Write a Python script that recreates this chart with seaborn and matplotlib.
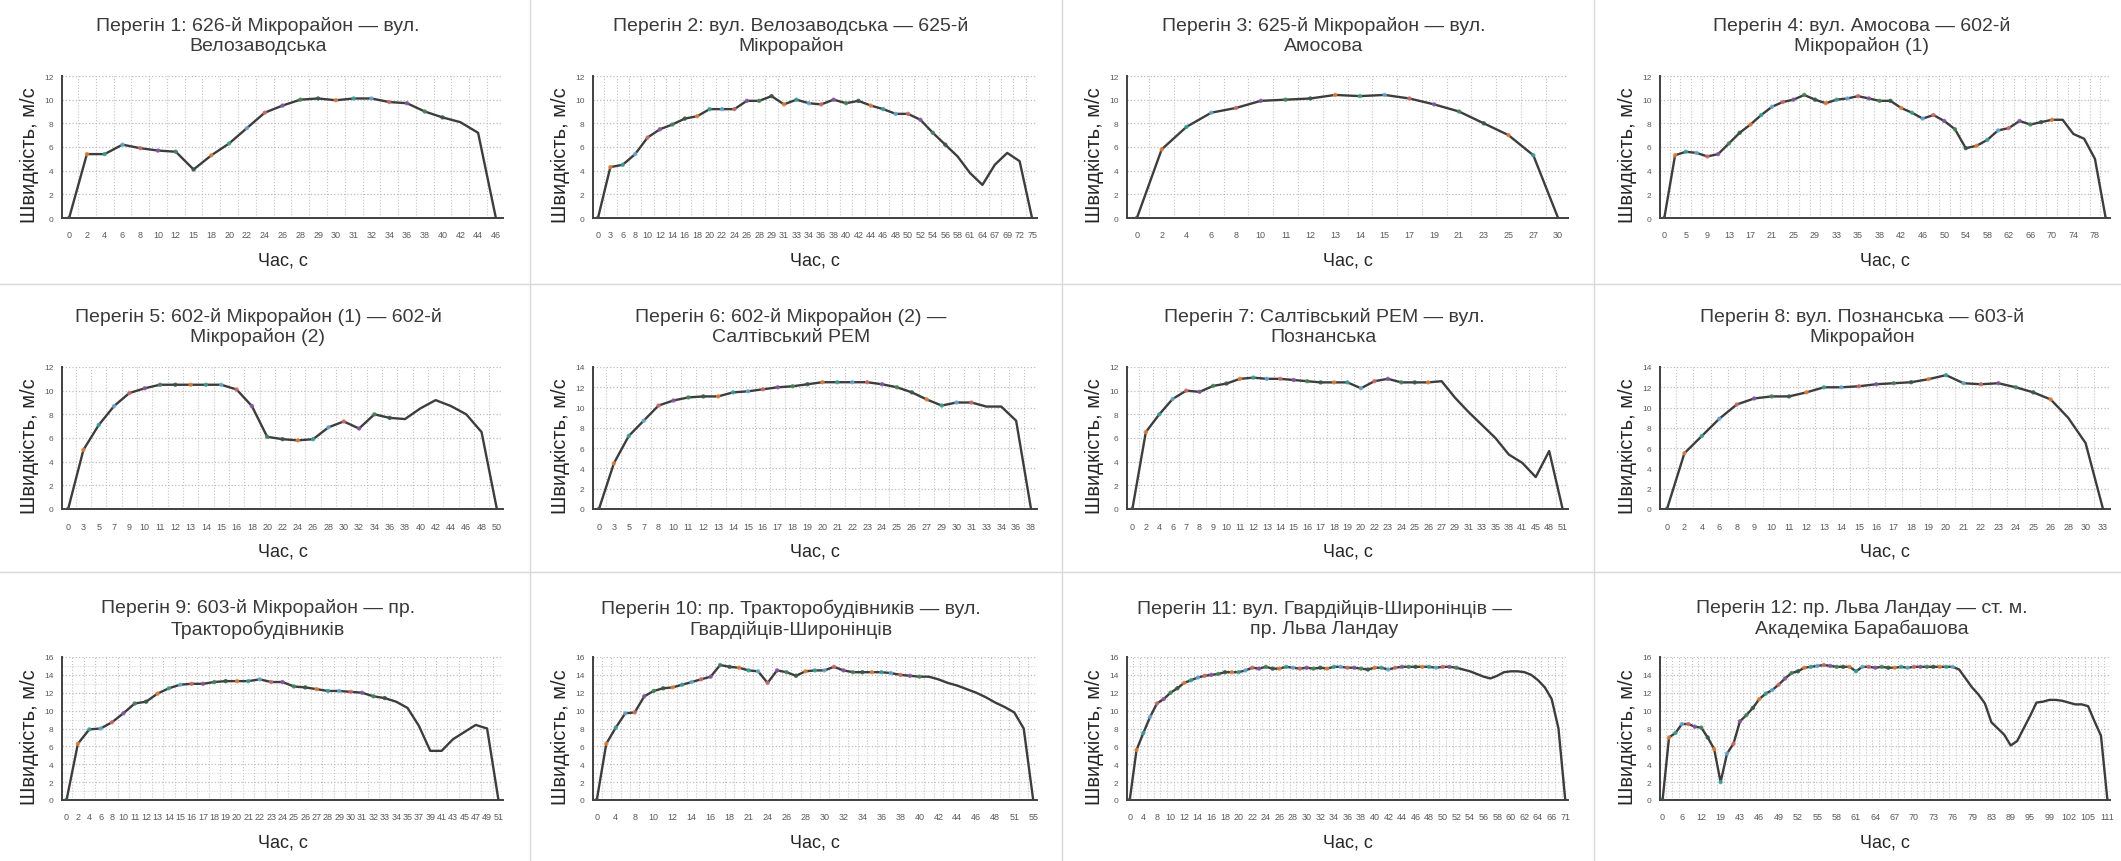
import matplotlib
matplotlib.use('Agg')
import numpy as np
import pandas as pd
import matplotlib.pyplot as plt
from matplotlib.lines import Line2D
import seaborn as sns

# Перегін 1 .. 12: time categories (s) and speed (m/s)
t1 = [0, 2, 4, 6, 8, 10, 12, 15, 18, 20, 22, 24, 26, 28, 29, 30, 31, 32, 34, 36, 38, 40, 42, 44, 46]
v1 = [0, 5.4, 5.4, 6.2, 5.9, 5.7, 5.6, 4.1, 5.3, 6.3, 7.6, 8.9, 9.5, 10.0, 10.1, 9.95, 10.1, 10.1,
      9.8, 9.7, 9.0, 8.5, 8.1, 7.2, 0]

t2 = [0, 3, 6, 8, 10, 12, 14, 16, 18, 20, 22, 24, 26, 28, 29, 31, 33, 34, 36, 38, 40, 42, 44, 46,
      48, 50, 52, 54, 56, 58, 61, 64, 67, 69, 72, 75]
v2 = [0, 4.3, 4.5, 5.4, 6.8, 7.5, 7.9, 8.4, 8.6, 9.2, 9.2, 9.2, 9.9, 9.9, 10.3, 9.6, 10.0, 9.7,
      9.6, 10.0, 9.7, 9.9, 9.5, 9.2, 8.8, 8.8, 8.3, 7.2, 6.2, 5.2, 3.8, 2.8, 4.5, 5.5, 4.8, 0]

t3 = [0, 2, 4, 6, 8, 10, 11, 12, 13, 14, 15, 17, 19, 21, 23, 25, 27, 30]
v3 = [0, 5.8, 7.7, 8.9, 9.3, 9.9, 10.0, 10.1, 10.4, 10.3, 10.4, 10.1, 9.6, 9.0, 8.0, 7.0, 5.3, 0]

t4 = [0, 3, 5, 7, 9, 11, 13, 15, 17, 19, 21, 23, 25, 27, 29, 31, 33, 34, 35, 37, 38, 40, 42, 44,
      46, 48, 50, 52, 54, 56, 58, 60, 62, 64, 66, 68, 70, 72, 74, 76, 78, 80]
v4 = [0, 5.3, 5.6, 5.5, 5.2, 5.4, 6.3, 7.2, 7.9, 8.7, 9.4, 9.8, 10.0, 10.4, 10.0, 9.7, 10.0, 10.1,
      10.3, 10.1, 9.9, 9.9, 9.3, 8.9, 8.4, 8.7, 8.2, 7.5, 5.9, 6.1, 6.6, 7.4, 7.6, 8.2, 7.9, 8.1,
      8.3, 8.3, 7.1, 6.7, 5.0, 0]

t5 = [0, 3, 5, 7, 9, 10, 11, 12, 13, 14, 15, 16, 18, 20, 22, 24, 26, 28, 30, 32, 34, 36, 38, 40,
      42, 44, 46, 48, 50]
v5 = [0, 5.0, 7.1, 8.7, 9.8, 10.2, 10.5, 10.5, 10.5, 10.5, 10.5, 10.1, 8.7, 6.1, 5.9, 5.8, 5.9,
      6.9, 7.4, 6.8, 8.0, 7.7, 7.6, 8.5, 9.2, 8.7, 8.0, 6.5, 0]

t6 = [0, 3, 5, 7, 8, 10, 11, 12, 13, 14, 15, 16, 17, 18, 19, 20, 21, 22, 23, 24, 25, 26, 27, 29,
      30, 31, 33, 34, 36, 38]
v6 = [0, 4.5, 7.2, 8.7, 10.2, 10.7, 11.0, 11.1, 11.1, 11.5, 11.6, 11.8, 12.0, 12.1, 12.3, 12.5,
      12.5, 12.5, 12.5, 12.3, 12.0, 11.5, 10.8, 10.2, 10.5, 10.5, 10.1, 10.1, 8.7, 0]

t7 = [0, 2, 4, 6, 7, 8, 9, 10, 11, 12, 13, 14, 15, 16, 17, 18, 19, 20, 22, 23, 24, 25, 26, 27,
      29, 31, 33, 35, 38, 41, 45, 48, 51]
v7 = [0, 6.5, 8.0, 9.3, 10.0, 9.9, 10.4, 10.6, 11.0, 11.1, 11.0, 11.0, 10.9, 10.8, 10.7, 10.7,
      10.7, 10.2, 10.8, 11.0, 10.7, 10.7, 10.7, 10.8, 9.4, 8.2, 7.1, 6.0, 4.6, 3.9, 2.7, 4.9, 0]

t8 = [0, 2, 4, 6, 8, 9, 10, 11, 12, 13, 14, 15, 16, 17, 18, 19, 20, 21, 22, 23, 24, 25, 26, 28,
      30, 33]
v8 = [0, 5.5, 7.2, 8.9, 10.3, 10.9, 11.1, 11.1, 11.5, 12.0, 12.0, 12.1, 12.3, 12.4, 12.5, 12.8,
      13.2, 12.4, 12.3, 12.4, 12.0, 11.5, 10.8, 9.0, 6.5, 0]

t9 = [0, 2, 4, 6, 8, 10, 11, 12, 13, 14, 15, 16, 17, 18, 19, 20, 21, 22, 23, 24, 25, 26, 27, 28,
      29, 30, 31, 32, 33, 34, 35, 37, 39, 41, 43, 45, 47, 49, 51]
v9 = [0, 6.3, 7.9, 8.0, 8.7, 9.7, 10.8, 11.0, 11.9, 12.5, 12.9, 13.0, 13.0, 13.2, 13.3, 13.3,
      13.3, 13.5, 13.2, 13.2, 12.7, 12.6, 12.4, 12.2, 12.2, 12.1, 12.0, 11.6, 11.4, 11.0, 10.3,
      8.3, 5.5, 5.5, 6.8, 7.6, 8.4, 8.0, 0]

t10 = [0, 2, 4, 6, 8, 9, 10, 11, 12, 13, 14, 15, 16, 17, 18, 19, 21, 22, 24, 25, 26, 27, 28, 29,
       30, 31, 32, 33, 34, 35, 36, 37, 38, 39, 40, 41, 42, 43, 44, 45, 46, 47, 48, 50, 51, 53, 55]
v10 = [0, 6.3, 8.1, 9.7, 9.8, 11.6, 12.2, 12.5, 12.6, 12.9, 13.2, 13.5, 13.8, 15.1, 14.9, 14.8,
       14.5, 14.4, 13.1, 14.5, 14.3, 13.9, 14.4, 14.5, 14.5, 14.9, 14.5, 14.3, 14.3, 14.3, 14.3,
       14.2, 14.0, 13.9, 13.8, 13.8, 13.5, 13.1, 12.8, 12.4, 12.0, 11.5, 10.9, 10.4, 9.8, 8.0, 0]

t11 = [0, 2, 4, 6, 8, 9, 10, 11, 12, 13, 14, 15, 16, 17, 18, 19, 20, 21, 22, 23, 24, 25, 26, 27,
       28, 29, 30, 31, 32, 33, 34, 35, 36, 37, 38, 39, 40, 41, 42, 43, 44, 45, 46, 47, 48, 49, 50,
       51, 52, 53, 54, 55, 56, 57, 58, 59, 60, 61, 62, 63, 64, 65, 66, 68, 71]
v11 = [0, 5.6, 7.5, 9.3, 10.8, 11.3, 12.0, 12.5, 13.1, 13.4, 13.7, 13.9, 14.0, 14.1, 14.3, 14.3,
       14.3, 14.5, 14.8, 14.7, 14.9, 14.7, 14.7, 14.9, 14.8, 14.7, 14.8, 14.7, 14.8, 14.7, 14.9,
       14.9, 14.8, 14.8, 14.7, 14.6, 14.8, 14.8, 14.6, 14.8, 14.9, 14.9, 14.9, 14.9, 14.9, 14.8,
       14.9, 14.9, 14.8, 14.6, 14.4, 14.1, 13.8, 13.6, 13.9, 14.3, 14.4, 14.4, 14.3, 14.0, 13.4,
       12.6, 11.3, 8.0, 0]

t12 = [0, 2, 4, 6, 8, 10, 12, 14, 17, 19, 21, 41, 43, 44, 45, 46, 47, 48, 49, 50, 51, 52, 53, 54,
       55, 56, 57, 58, 59, 60, 61, 62, 63, 64, 65, 66, 67, 68, 69, 70, 71, 72, 73, 74, 75, 76, 77,
       78, 79, 81, 82, 83, 85, 87, 89, 91, 93, 95, 97, 98, 99, 100, 101, 102, 103, 104, 105, 107,
       109, 111]
v12 = [0, 7.0, 7.5, 8.5, 8.5, 8.2, 8.1, 7.0, 5.7, 2.0, 5.2, 6.3, 8.8, 9.5, 10.3, 11.3, 11.9, 12.3,
       12.9, 13.6, 14.2, 14.4, 14.8, 14.9, 15.0, 15.1, 15.0, 14.9, 14.9, 14.9, 14.4, 14.9, 14.9,
       14.8, 14.9, 14.8, 14.8, 14.9, 14.8, 14.9, 14.9, 14.9, 14.9, 14.9, 14.9, 14.9, 14.6, 13.6,
       12.6, 11.8, 10.8, 8.7, 8.0, 7.3, 6.1, 6.6, 8.0, 9.4, 10.9, 11.0, 11.2, 11.2, 11.1, 10.9,
       10.7, 10.7, 10.5, 8.8, 7.2, 0]

titles = [
    'Перегін 1: 626-й Мікрорайон — вул.\nВелозаводська',
    'Перегін 2: вул. Велозаводська — 625-й\nМікрорайон',
    'Перегін 3: 625-й Мікрорайон — вул.\nАмосова',
    'Перегін 4: вул. Амосова — 602-й\nМікрорайон (1)',
    'Перегін 5: 602-й Мікрорайон (1) — 602-й\nМікрорайон (2)',
    'Перегін 6: 602-й Мікрорайон (2) —\nСалтівський РЕМ',
    'Перегін 7: Салтівський РЕМ — вул.\nПознанська',
    'Перегін 8: вул. Познанська — 603-й\nМікрорайон',
    'Перегін 9: 603-й Мікрорайон — пр.\nТракторобудівників',
    'Перегін 10: пр. Тракторобудівників — вул.\nГвардійців-Широнінців',
    'Перегін 11: вул. Гвардійців-Широнінців —\nпр. Льва Ландау',
    'Перегін 12: пр. Льва Ландау — ст. м.\nАкадеміка Барабашова',
]
times = [t1, t2, t3, t4, t5, t6, t7, t8, t9, t10, t11, t12]
speeds = [v1, v2, v3, v4, v5, v6, v7, v8, v9, v10, v11, v12]

# per panel styling: y max, label every n-th category, how many leading points get a marker
y_max = [12, 12, 12, 12, 12, 14, 12, 14, 16, 16, 16, 16]
label_step = [1, 1, 1, 2, 1, 1, 1, 1, 1, 2, 2, 3]
n_marked = [22, 29, 17, 37, 22, 26, 23, 23, 29, 35, 49, 46]

W, H = 2121, 862
cols = [(62, 503), (593, 1037), (1127, 1568), (1660, 2110)]
rows = [(77, 219), (368, 510), (658, 801)]
title_x = [258, 791, 1324, 1862]
title_y = [36, 327, 619]

dot_colors = ['#3a5a45', '#e8843c', '#3aa79a', '#6aaed8', '#d2706e', '#8a5aa8', '#4a8a5c']

sns.set_theme(style='white')
plt.rcParams['font.family'] = ['Liberation Sans', 'DejaVu Sans']

fig = plt.figure(figsize=(W / 100, H / 100), dpi=100)
fig.patch.set_facecolor('white')

for k in range(12):
    r, c = divmod(k, 4)
    x0, x1 = cols[c]
    yt, yb = rows[r]
    ax = fig.add_axes([x0 / W, 1 - yb / H, (x1 - x0) / W, (yb - yt) / H])
    n = len(times[k])
    df = pd.DataFrame({'pos': np.arange(n), 'speed': speeds[k], 'grp': np.arange(n) % len(dot_colors)})

    sns.lineplot(data=df, x='pos', y='speed', ax=ax, color='#3d3d3d', linewidth=1.7, zorder=3)
    sns.scatterplot(data=df.iloc[:n_marked[k]], x='pos', y='speed', hue='grp', alpha=0.85,
                    palette=dot_colors, s=10, edgecolor='none', legend=False, ax=ax, zorder=4)

    ax.set_xlim(-0.4, n - 0.6)
    ax.set_ylim(0, y_max[k])
    ax.set_yticks(range(0, y_max[k] + 1, 2))
    step = label_step[k]
    ax.set_xticks(np.arange(0, n, step))
    ax.set_xticklabels([str(t) for t in times[k][::step]])
    ax.set_xticks(np.arange(n - 1) + 0.5, minor=True)
    if r == 2:
        ax.set_yticks(range(1, y_max[k], 2), minor=True)
    ax.tick_params(axis='x', which='both', length=0, labelsize=6.5, labelcolor='#595959', pad=9)
    ax.tick_params(axis='y', which='both', length=0, labelsize=6, labelcolor='#595959', pad=6)

    ax.grid(False)
    ax.grid(which='minor', axis='x', linestyle=':', color='#c4c4c4', linewidth=0.8)
    ax.grid(which='major', axis='y', linestyle=':', color='#bdbdbd', linewidth=0.9)
    if r == 2:
        ax.grid(which='minor', axis='y', linestyle=':', color='#d6d6d6', linewidth=0.7)
    for side in ['top', 'right']:
        ax.spines[side].set_visible(False)
    for side in ['left', 'bottom']:
        ax.spines[side].set_color('#404040')
        ax.spines[side].set_linewidth(1.4)

    ax.set_xlabel('Час, с', fontsize=13, color='#262626')
    ax.set_ylabel('Швидкість, м/с', fontsize=14.5, color='#262626')
    ax.xaxis.set_label_coords(0.5, -42 / (yb - yt))
    ax.yaxis.set_label_coords(-33 / (x1 - x0), 0.45)
    ax.xaxis.label.set_va('center')
    ax.yaxis.label.set_va('center')

    fig.text(title_x[c] / W, 1 - title_y[r] / H, titles[k], ha='center', va='center',
             fontsize=14, color='#3a3a3a', linespacing=1.2)

# thin frames between the chart images
for xv in [530, 1062, 1594]:
    fig.add_artist(Line2D([xv / W, xv / W], [0, 1], transform=fig.transFigure, color='#d9d9d9', lw=1))
for yv in [285, 573]:
    fig.add_artist(Line2D([0, 1], [1 - yv / H, 1 - yv / H], transform=fig.transFigure, color='#d9d9d9', lw=1))

fig.savefig('out.png', dpi=100)
